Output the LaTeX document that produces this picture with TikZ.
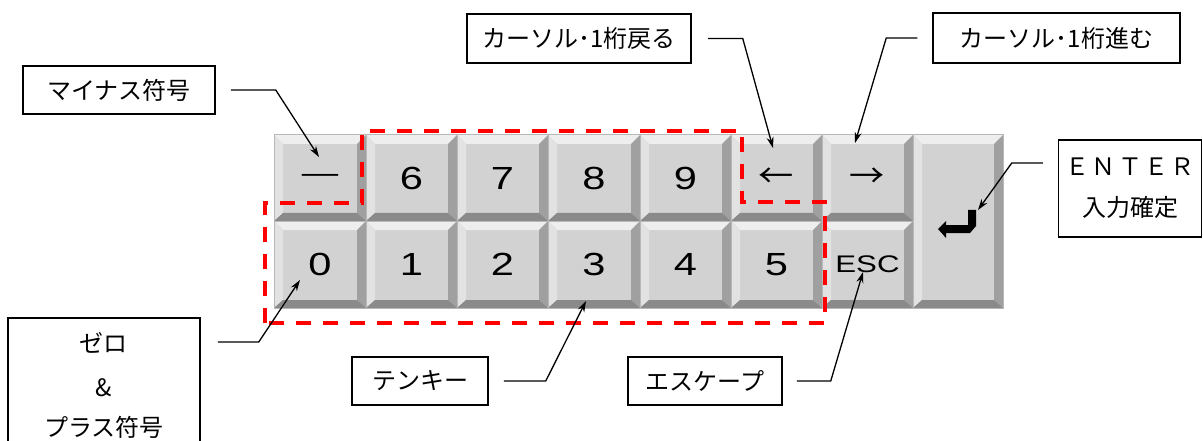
\documentclass[tikz,border=0pt]{standalone}
\usepackage{fontspec}
\setmainfont{Liberation Sans}
\newfontfamily\jpfont{Noto Sans CJK JP}
\usetikzlibrary{arrows.meta}
\definecolor{kface}{HTML}{D2D2D2}
\definecolor{ktop}{HTML}{EEEEEE}
\definecolor{kleft}{HTML}{E2E2E2}
\definecolor{kright}{HTML}{A0A0A0}
\definecolor{kbottom}{HTML}{8A8A8A}
\definecolor{kline}{HTML}{B8B8B8}
\newcommand\widen[1]{\scalebox{1.3}[1]{#1}}
\newcommand\kcap[6]{%
  \fill[kface] (#1,#2) rectangle (#3,#4);
  \fill[ktop] (#1,#2) -- (#3,#2) -- (#3-9,#2+9) -- (#1+9,#2+9) -- cycle;
  \fill[kleft] (#1,#2) -- (#1+9,#2+9) -- (#1+9,#4-8) -- (#1,#4) -- cycle;
  \fill[kright] (#3,#2) -- (#3-9,#2+9) -- (#3-9,#4-8) -- (#3,#4) -- cycle;
  \fill[kbottom] (#1,#4) -- (#1+9,#4-8) -- (#3-9,#4-8) -- (#3,#4) -- cycle;
  \draw[kline, line width=1pt] (#1,#2) rectangle (#3,#4);
  \node[keylabel] (#5) at ({(#1+#3)/2},{(#2+#4)/2}) {#6};
}
\tikzset{
  keylabel/.style={inner sep=0pt, font=\fontsize{32}{36}\selectfont},
  callout/.style={draw=black, line width=1.5pt, fill=white, inner sep=0pt, align=center,
    font=\jpfont\fontsize{24}{42}\selectfont},
  conn/.style={line width=1.3pt, -{Stealth[length=11pt, width=7pt]}},
  tenkey/.style={red, line width=4pt, dash pattern=on 15pt off 12pt}
}
\begin{document}
\begin{tikzpicture}[x=1pt, y=-1pt]
\clip (0,0) rectangle (1203,441);
\fill[white] (0,0) rectangle (1203,441);
% keys, row 1
\kcap{274}{135}{366}{221}{kminus}{\fontsize{28}{30}\selectfont\widen{—}}
\kcap{366}{135}{457}{221}{k6}{\widen{6}}
\kcap{457}{135}{548}{221}{k7}{\widen{7}}
\kcap{548}{135}{640}{221}{k8}{\widen{8}}
\kcap{640}{135}{731}{221}{k9}{\widen{9}}
\kcap{731}{135}{822}{221}{kleftar}{\jpfont\scalebox{1.1}[1]{←}}
\kcap{822}{135}{913}{221}{krightar}{\jpfont\scalebox{1.1}[1]{→}}
% keys, row 2
\kcap{274}{221}{366}{308}{k0}{\widen{0}}
\kcap{366}{221}{457}{308}{k1}{\widen{1}}
\kcap{457}{221}{548}{308}{k2}{\widen{2}}
\kcap{548}{221}{640}{308}{k3}{\widen{3}}
\kcap{640}{221}{731}{308}{k4}{\widen{4}}
\kcap{731}{221}{822}{308}{k5}{\widen{5}}
\kcap{822}{221}{913}{308}{kesc}{\fontsize{24}{28}\selectfont\widen{ESC}}
% enter key
\kcap{913}{135}{1003}{308}{kenter}{}
\fill[black] (968,210) -- (976,210) -- (976,226) -- (970,233) -- (946,233) -- (946,238)
  -- (938,229) -- (946,221) -- (946,225) -- (968,225) -- cycle;
% ten-key region
\draw[tenkey] (265,323) -- (265,203) -- (362,203) -- (362,131) -- (742,131) -- (742,202)
  -- (825,202) -- (825,323) -- cycle;
% callout boxes
\node[callout, minimum width=192pt, minimum height=48pt] (b1) at (119,90) {マイナス符号};
\node[callout, minimum width=224pt, minimum height=49pt] (b2) at (579,38.5) {カーソル･1桁戻る};
\node[callout, minimum width=247pt, minimum height=50pt] (b3) at (1056.5,38) {カーソル･1桁進む};
\node[callout, minimum width=143pt, minimum height=97pt] (b4) at (1130,188.5)
  {Ｅ\hspace{2.5pt}Ｎ\hspace{2.5pt}Ｔ\hspace{2.5pt}Ｅ\hspace{2.5pt}Ｒ\\[-1pt]入力確定};
\node[callout, minimum width=192pt, minimum height=134pt] (b5) at (104,385) {ゼロ\\[2pt]\&\\[-2pt]プラス符号};
\node[callout, minimum width=136pt, minimum height=48pt] (b6) at (420,381) {テンキー};
\node[callout, minimum width=154pt, minimum height=48pt] (b7) at (705,381) {エスケープ};
% arrow targets
\coordinate (t1) at (319,157);
\coordinate (t2) at (773,148);
\coordinate (t3) at (855,143);
\coordinate (t4) at (978,210);
\coordinate (t5) at (300,280);
\coordinate (t6) at (586,301);
\coordinate (t7) at (863,272);
% connectors
\draw[conn] ([xshift=15pt]b1.east) -- ++(45,0) -- (t1);
\draw[conn] ([xshift=16pt]b2.east) -- ++(35,0) -- (t2);
\draw[conn] ([xshift=-15pt]b3.west) -- ++(-31,0) -- (t3);
\draw[conn] ([xshift=-15pt,yshift=25.5pt]b4.west) -- ++(-31,0) -- (t4);
\draw[conn] ([xshift=17pt,yshift=43pt]b5.east) -- ++(41,0) -- (t5);
\draw[conn] ([xshift=15pt]b6.east) -- ++(42,0) -- (t6);
\draw[conn] ([xshift=14pt]b7.east) -- ++(34,0) -- (t7);
\end{tikzpicture}
\end{document}
